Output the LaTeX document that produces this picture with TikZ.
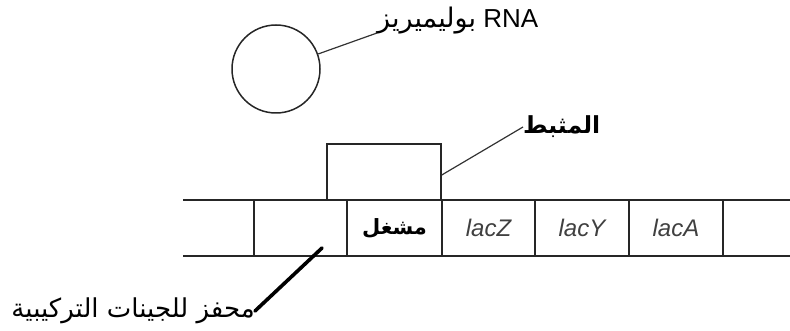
\documentclass[tikz,border=0pt]{standalone}
\usepackage{fontspec}
\setmainfont{Liberation Sans}
\newfontfamily\arabicfont[Script=Arabic]{DejaVu Sans}
\TeXXeTstate=1
\begin{document}
\begin{tikzpicture}[x=1pt,y=-1pt,
  outline/.style={draw=black!85, line width=1.5pt},
  cell/.style={outline, rectangle, minimum height=56pt, inner sep=0pt},
  gene/.style={font=\fontsize{24}{26}\selectfont\itshape, text=black!75},
  arlabel/.style={font=\arabicfont\fontsize{20}{24}\selectfont, inner sep=0pt},
  pointer/.style={draw=black!80, line width=1.2pt},
  heavypointer/.style={draw=black, line width=3.6pt, line cap=round}]
\useasboundingbox (0,0) rectangle (790,331);

% RNA polymerase
\node[outline, circle, minimum size=88pt, inner sep=0pt] (pol) at (276,69) {};
\node[anchor=west, inner sep=0pt] (poltxt) at (377,21)
  {\fontsize{26}{28}\selectfont\beginR\beginL RNA\endL{} {\arabicfont\fontsize{27}{28}\selectfont بوليميريز}\endR};
\coordinate (polend) at (377,33);
\draw[pointer] (pol) -- (polend);

% DNA strip
\coordinate (stripTL) at (183,200);
\coordinate (stripTR) at (790,200);
\coordinate (stripBL) at (183,256);
\coordinate (stripBR) at (790,256);
\draw[outline] (stripTL) -- (stripTR);
\draw[outline] (stripBL) -- (stripBR);

\node[cell, minimum width=93pt] (prom) at (300.5,228) {};
\node[cell, minimum width=95pt, arlabel, font=\arabicfont\bfseries\fontsize{21}{24}\selectfont] (oper) at (394.5,228) {\beginR مشغل\endR};
\node[cell, minimum width=93pt, gene] (lacZ) at (488.5,228) {lacZ};
\node[cell, minimum width=94pt, gene] (lacY) at (582,228) {lacY};
\node[cell, minimum width=94pt, gene] (lacA) at (676,228) {lacA};

% repressor bound on the operator
\node[outline, rectangle, minimum width=114pt, minimum height=56pt, inner sep=0pt] (rep) at (384,172) {};
\node[arlabel, font=\arabicfont\bfseries\fontsize{23.5}{26}\selectfont, anchor=west] (reptxt) at (523,127) {\beginR المثبط\endR};
\draw[pointer] ([yshift=-3pt]rep.east) -- (reptxt.west);

% promoter of the structural genes
\node[arlabel, font=\arabicfont\fontsize{26}{28}\selectfont, anchor=east] (promtxt) at (255,311) {\beginR محفز للجينات التركيبية\endR};
\coordinate (promtip) at (322,248);
\draw[heavypointer] (promtxt.east) -- (promtip);
\end{tikzpicture}
\end{document}
